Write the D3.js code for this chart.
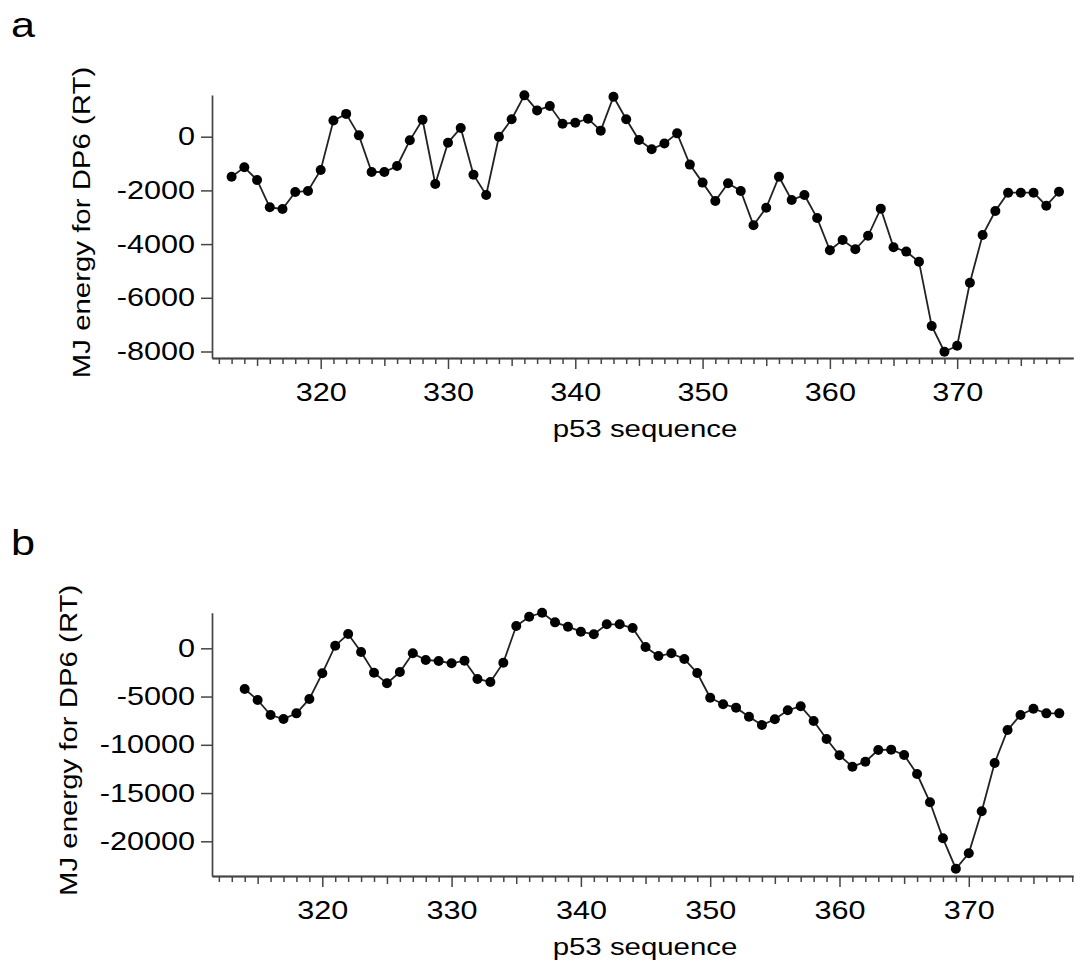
<!DOCTYPE html>
<html>
<head>
<meta charset="utf-8">
<script src="https://cdn.jsdelivr.net/npm/d3@7"></script>
<style>
  body { margin: 0; background: #fff; }
  svg { display: block; font-family: Arial, "Liberation Sans", Helvetica, sans-serif; }
</style>
</head>
<body>
<div id="container"></div>
<script>
// panel a: residues and MJ energy
const residuesA = [313, 314, 315, 316, 317, 318, 319, 320, 321, 322, 323, 324, 325, 326, 327, 328, 329, 330,
  331, 332, 333, 334, 335, 336, 337, 338, 339, 340, 341, 342, 343, 344, 345, 346, 347, 348, 349, 350,
  351, 352, 353, 354, 355, 356, 357, 358, 359, 360, 361, 362, 363, 364, 365, 366, 367, 368, 369, 370,
  371, 372, 373, 374, 375, 376, 377, 378];
const energyA = [-1490, -1140, -1610, -2630, -2690, -2060, -2020, -1240, 600, 850, 50, -1315, -1315, -1090,
  -135, 630, -1760, -225, 325, -1415, -2170, 0, 650, 1540, 980, 1140, 485, 520, 670, 225, 1490, 650,
  -125, -470, -250, 125, -1040, -1710, -2395, -1735, -2020, -3300, -2645, -1490, -2360, -2170, -3030,
  -4230, -3850, -4195, -3690, -2680, -4120, -4280, -4655, -7050, -8010, -7785, -5440, -3660, -2770,
  -2085, -2085, -2085, -2570, -2050];

// panel b
const residuesB = [314, 315, 316, 317, 318, 319, 320, 321, 322, 323, 324, 325, 326, 327, 328, 329, 330,
  331, 332, 333, 334, 335, 336, 337, 338, 339, 340, 341, 342, 343, 344, 345, 346, 347, 348, 349, 350,
  351, 352, 353, 354, 355, 356, 357, 358, 359, 360, 361, 362, 363, 364, 365, 366, 367, 368, 369, 370,
  371, 372, 373, 374, 375, 376, 377];
const energyB = [-4220, -5360, -6910, -7330, -6740, -5250, -2590, 270, 1480, -380, -2530, -3630, -2460,
  -520, -1210, -1315, -1555, -1280, -3180, -3490, -1490, 2310, 3270, 3690, 2690, 2240, 1720, 1450, 2490,
  2490, 2100, 135, -800, -520, -1110, -2560, -5120, -5800, -6150, -7090, -7950, -7360, -6420, -6010,
  -7530, -9400, -11090, -12270, -11750, -10540, -10500, -11060, -13030, -15960, -19690, -22840, -21240,
  -16890, -11890, -8470, -6910, -6260, -6740, -6740];

const yTicksA = [0, -2000, -4000, -6000, -8000];
const yTicksB = [0, -5000, -10000, -15000, -20000];
const xLabels = [320, 330, 340, 350, 360, 370];

const yTitle = "MJ energy for DP6 (RT)";
const xTitle = "p53 sequence";

const W = 1074, H = 963;
const SX = 1.2; // the lettering in the figure is a wide grotesque
const AXIS = "#444";
const plain = d => String(d); // keep the hyphen-minus of the original

const svg = d3.select("#container").append("svg")
  .attr("width", W).attr("height", H)
  .attr("viewBox", [0, 0, W, H]);

function widen(texts) {
  texts.each(function () {
    const t = d3.select(this);
    const x = +t.attr("x") || 0, y = +t.attr("y") || 0;
    t.attr("x", null).attr("y", null)
      .attr("transform", `translate(${x},${y}) scale(${SX},1)`);
  });
}

function drawPanel(opt) {
  const x = d3.scaleLinear().domain(opt.xDomain).range([212, 1073]);
  const y = d3.scaleLinear().domain(opt.yDomain).range([opt.bottom, opt.top]);
  const g = svg.append("g");

  // x axis: minor, medium (5s) and major (10s) ticks
  const all = d3.range(312, opt.lastTick + 1);
  const minor = all.filter(v => v % 5 !== 0);
  const medium = all.filter(v => v % 5 === 0 && v % 10 !== 0);

  const xg = g.append("g").attr("transform", `translate(0,${opt.bottom})`);
  xg.append("g").call(d3.axisBottom(x).tickValues(minor).tickSize(6).tickSizeOuter(0).tickFormat(""));
  xg.append("g").call(d3.axisBottom(x).tickValues(medium).tickSize(8).tickSizeOuter(0).tickFormat(""));
  const major = xg.append("g")
    .call(d3.axisBottom(x).tickValues(xLabels).tickSize(11).tickSizeOuter(0).tickPadding(14).tickFormat(plain));
  major.attr("font-family", null);
  major.selectAll("text").attr("font-size", 25.5).attr("fill", "#000");
  widen(major.selectAll("text"));
  xg.selectAll(".tick line").attr("stroke", AXIS).attr("stroke-width", 1.5);
  xg.selectAll(".domain").attr("stroke", AXIS).attr("stroke-width", 1.7);

  // y axis
  const yg = g.append("g").attr("transform", "translate(212,0)")
    .call(d3.axisLeft(y).tickValues(opt.yTicks).tickSize(11).tickSizeOuter(0).tickPadding(6).tickFormat(plain));
  yg.attr("font-family", null);
  yg.selectAll("text").attr("font-size", 25.5).attr("fill", "#000");
  widen(yg.selectAll("text"));
  yg.selectAll(".tick line").attr("stroke", AXIS).attr("stroke-width", 1.5);
  yg.select(".domain").attr("stroke", AXIS).attr("stroke-width", 1.7);

  // titles
  g.append("text")
    .attr("transform", `translate(${opt.yTitleX},${(opt.top + opt.bottom) / 2 - 4}) rotate(-90) scale(${SX},1)`)
    .attr("text-anchor", "middle").attr("font-size", 24.5).attr("fill", "#000")
    .text(yTitle);
  g.append("text")
    .attr("transform", `translate(645,${opt.bottom + 79}) scale(${SX},1)`)
    .attr("text-anchor", "middle").attr("font-size", 24.5).attr("fill", "#000")
    .text(xTitle);
  g.append("text")
    .attr("transform", `translate(11,${opt.top + opt.labelDy}) scale(${SX},1)`)
    .attr("font-size", 36).attr("fill", "#000")
    .text(opt.label);

  // series
  const pts = opt.residues.map((r, i) => [r, opt.energy[i]]);
  const line = d3.line().x(d => x(d[0])).y(d => y(d[1]));
  g.append("path").datum(pts)
    .attr("fill", "none").attr("stroke", "#222").attr("stroke-width", 1.8)
    .attr("d", line);
  g.selectAll("circle.pt").data(pts).join("circle")
    .attr("class", "pt")
    .attr("cx", d => x(d[0])).attr("cy", d => y(d[1]))
    .attr("r", 5).attr("fill", "#000");
}

drawPanel({
  label: "a", residues: residuesA, energy: energyA,
  xDomain: [311.46, 379.1], yDomain: [-8242, 1553],
  top: 95, bottom: 358, yTicks: yTicksA, lastTick: 378,
  yTitleX: 90, labelDy: -58
});

drawPanel({
  label: "b", residues: residuesB, energy: energyB,
  xDomain: [311.47, 378.06], yDomain: [-23596, 3690],
  top: 612.7, bottom: 876, yTicks: yTicksB, lastTick: 378,
  yTitleX: 77, labelDy: -58
});
</script>
</body>
</html>
